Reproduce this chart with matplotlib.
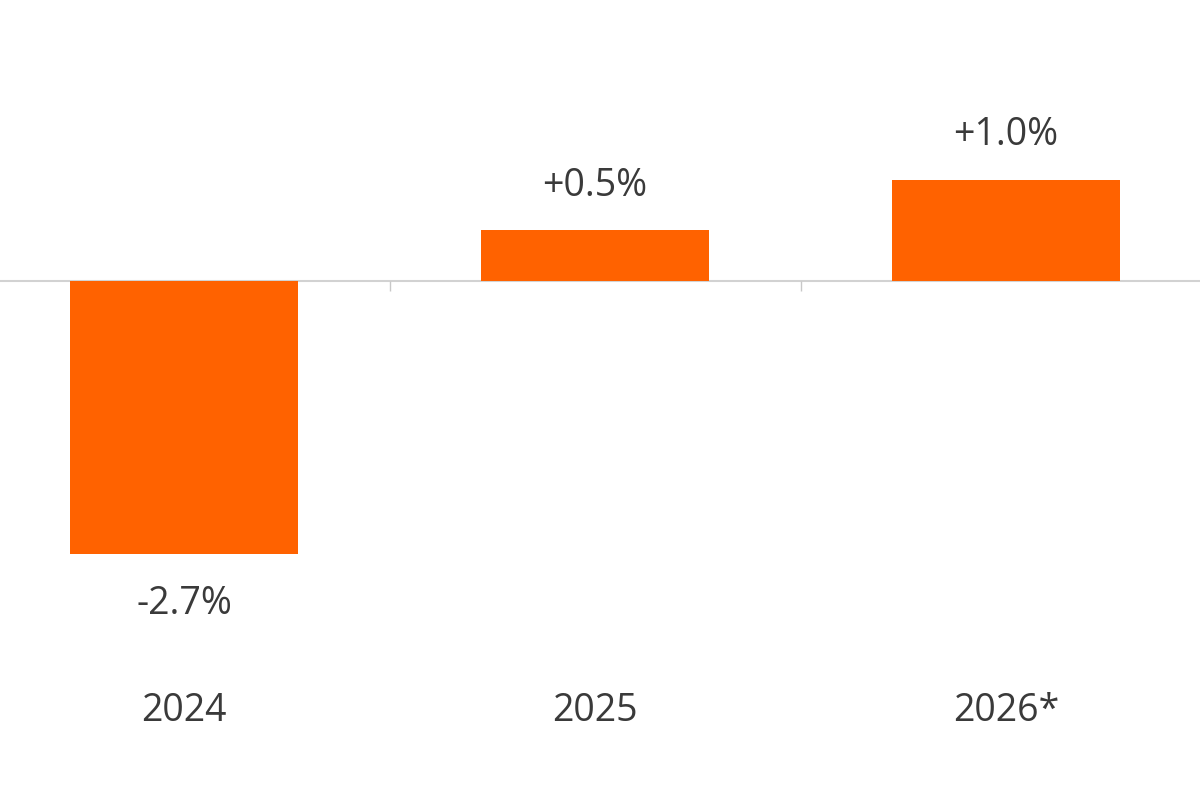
import numpy as np
import matplotlib.pyplot as plt

years = ['2024', '2025', '2026*']
growth = [-2.7, 0.5, 1.0]
labels = ['-2.7%', '+0.5%', '+1.0%']

orange = '#FF6200'
txt = '#3a3a3a'

plt.rcParams['font.family'] = ['Open Sans', 'DejaVu Sans']

fig = plt.figure(figsize=(12, 8), dpi=100)
ax = fig.add_axes([0, 0, 1, 1])

x = np.arange(len(years))
ax.bar(x, growth, width=0.555, color=orange, zorder=2)

for xi, v, lab in zip(x, growth, labels):
    off = 32 if v > 0 else -36
    ax.annotate(lab, (xi, v), xytext=(0, off), textcoords='offset points',
                ha='center', va='center', fontsize=27, color=txt)

ax.set_xlim(-0.448, 2.472)
ax.set_ylim(-5.14, 2.78)

for s in ['top', 'left', 'right']:
    ax.spines[s].set_visible(False)
ax.spines['bottom'].set_position(('data', 0))
ax.spines['bottom'].set_color('#d2d2d2')
ax.spines['bottom'].set_linewidth(1.5)
ax.spines['bottom'].set_zorder(1)

ax.set_yticks([])
ax.set_xticks(x)
ax.set_xticklabels(years)
ax.set_xticks(x[:-1] + 0.5, minor=True)
ax.tick_params(axis='x', which='major', length=0, pad=296, labelsize=27, labelcolor=txt)
ax.tick_params(axis='x', which='minor', length=7, width=1, color='#c8c8c8', direction='out')

fig.savefig('out.png', dpi=100)
